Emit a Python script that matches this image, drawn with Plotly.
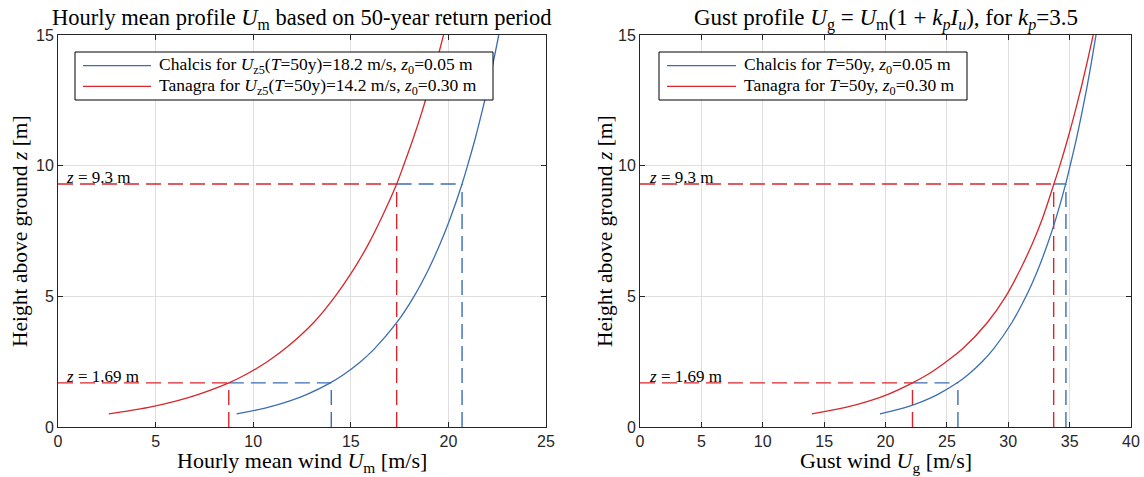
import plotly.graph_objects as go
from plotly.subplots import make_subplots

# ---------------- data ----------------
z_levels = [0.5, 0.75, 1.0, 1.25, 1.69, 2.0, 2.5, 3.0, 4.0, 5.0, 6.0, 7.0,
            8.0, 9.3, 10.0, 11.0, 12.0, 13.0, 14.0, 15.0]
Um_chalcis = [9.15, 10.75, 11.88, 12.76, 13.95, 14.62, 15.5, 16.22, 17.36, 18.24,
              18.96, 19.57, 20.1, 20.7, 20.98, 21.36, 21.7, 22.02, 22.31, 22.58]
Um_tanagra = [2.6, 4.64, 6.08, 7.2, 8.75, 9.6, 10.72, 11.64, 13.1, 14.2,
              15.12, 15.9, 16.57, 17.35, 17.7, 18.18, 18.62, 19.02, 19.4, 19.75]
Ug_chalcis = [19.55, 21.65, 23.12, 24.27, 25.85, 26.72, 27.87, 28.82, 30.3, 31.45,
              32.4, 33.2, 33.9, 34.68, 35.04, 35.54, 35.99, 36.41, 36.79, 37.15]
Ug_tanagra = [14.0, 16.75, 18.7, 20.2, 22.2, 23.4, 24.95, 26.3, 28.3, 29.8,
              30.95, 31.95, 32.8, 33.72, 34.2, 34.83, 35.41, 35.95, 36.45, 36.92]

z_marks = [1.69, 9.3]
z_mark_labels = ["1.69", "9.3"]
Um_mark_chalcis = [14.0, 20.7]
Um_mark_tanagra = [8.75, 17.35]
Ug_mark_chalcis = [25.9, 34.7]
Ug_mark_tanagra = [22.2, 33.7]

x_ticks_left = [0, 5, 10, 15, 20, 25]
x_ticks_right = [0, 5, 10, 15, 20, 25, 30, 35, 40]
y_ticks = [0, 5, 10, 15]

names_left = [
    "Chalcis for <i>U</i><sub>z5</sub>(<i>T</i>=50y)=18.2 m/s, <i>z</i><sub>0</sub>=0.05 m",
    "Tanagra for <i>U</i><sub>z5</sub>(<i>T</i>=50y)=14.2 m/s, <i>z</i><sub>0</sub>=0.30 m",
]
names_right = [
    "Chalcis for <i>T</i>=50y, <i>z</i><sub>0</sub>=0.05 m",
    "Tanagra for <i>T</i>=50y, <i>z</i><sub>0</sub>=0.30 m",
]

# ---------------- styling ----------------
BLUE = "#3B6DB4"
RED = "#D7262C"
AX = "#262626"
GRID = "#DFDFDF"
SERIF = "Liberation Serif, Times New Roman, serif"
SANS = "Liberation Sans, Arial, sans-serif"
W, H = 1144, 477
OFF = 0


def X(px):
    return (px - OFF) / W


def Y(py):
    return 1 - (py - OFF) / H


fig = make_subplots(rows=1, cols=2)

DASH = "15px,7px"


def add_panel(col, u_chal, u_tan, mark_chal, mark_tan):
    # dashed guide lines
    for zm, uc, ut in zip(z_marks, mark_chal, mark_tan):
        fig.add_trace(go.Scatter(x=[0, ut], y=[zm, zm], mode="lines",
                                 line=dict(color=RED, width=1.4, dash=DASH),
                                 showlegend=False, hoverinfo="skip"), row=1, col=col)
        fig.add_trace(go.Scatter(x=[ut, uc], y=[zm, zm], mode="lines",
                                 line=dict(color=BLUE, width=1.4, dash=DASH),
                                 showlegend=False, hoverinfo="skip"), row=1, col=col)
        fig.add_trace(go.Scatter(x=[ut, ut], y=[0, zm], mode="lines",
                                 line=dict(color=RED, width=1.4, dash=DASH),
                                 showlegend=False, hoverinfo="skip"), row=1, col=col)
        fig.add_trace(go.Scatter(x=[uc, uc], y=[0, zm], mode="lines",
                                 line=dict(color=BLUE, width=1.4, dash=DASH),
                                 showlegend=False, hoverinfo="skip"), row=1, col=col)
    fig.add_trace(go.Scatter(x=u_chal, y=z_levels, mode="lines",
                             line=dict(color=BLUE, width=1.3, shape="spline"),
                             showlegend=False), row=1, col=col)
    fig.add_trace(go.Scatter(x=u_tan, y=z_levels, mode="lines",
                             line=dict(color=RED, width=1.3, shape="spline"),
                             showlegend=False), row=1, col=col)


add_panel(1, Um_chalcis, Um_tanagra, Um_mark_chalcis, Um_mark_tanagra)
add_panel(2, Ug_chalcis, Ug_tanagra, Ug_mark_chalcis, Ug_mark_tanagra)

axis_common = dict(showline=True, linecolor=AX, linewidth=1, mirror="allticks",
                   ticks="inside", ticklen=5, tickcolor=AX, tickwidth=1,
                   showgrid=True, gridcolor=GRID, gridwidth=1, zeroline=False,
                   automargin=False,
                   tickfont=dict(family=SANS, size=16, color=AX))

fig.update_xaxes(axis_common)
fig.update_yaxes(axis_common)
fig.update_xaxes(range=[0, 25], tickvals=x_ticks_left, domain=[X(58), X(546)], row=1, col=1)
fig.update_xaxes(range=[0, 40], tickvals=x_ticks_right, domain=[X(640), X(1131)], row=1, col=2)
fig.update_yaxes(range=[0, 15], tickvals=y_ticks, domain=[Y(427), Y(35)])

annotations = []


def ann(text, x, y, size, **kw):
    d = dict(text=text, x=x, y=y, xref="paper", yref="paper", showarrow=False,
             xanchor="center", yanchor="middle",
             font=dict(family=SERIF, size=size, color="#000000"))
    d.update(kw)
    annotations.append(d)


# titles
ann("Hourly mean profile <i>U</i><sub>m</sub> based on 50-year return period",
    X(302), Y(19), 22.5)
ann("Gust profile <i>U</i><sub>g</sub> = <i>U</i><sub>m</sub>(1 + <i>k</i><sub><i>p</i></sub>"
    "<i>I</i><sub><i>u</i></sub>), for <i>k</i><sub><i>p</i></sub>=3.5",
    X(886), Y(19), 23)
# axis titles
ann("Hourly mean wind <i>U</i><sub>m</sub> [m/s]", X(302), Y(462), 22)
ann("Gust wind <i>U</i><sub>g</sub> [m/s]", X(886), Y(462), 22)
ann("Height above ground <i>z</i> [m]", X(20), Y(231), 21.5, textangle=-90)
ann("Height above ground <i>z</i> [m]", X(605), Y(231), 21.5, textangle=-90)

# height labels
for xr, yr, x0 in (("x", "y", 0.3), ("x2", "y2", 0.55)):
    for zm, lab in zip(z_marks, z_mark_labels):
        annotations.append(dict(text="<i>z</i> = " + lab + " m", x=x0, y=zm, xref=xr, yref=yr,
                                xanchor="left", yanchor="middle", yshift=6, showarrow=False,
                                font=dict(family=SERIF, size=17, color="#000000")))

shapes = []


def legend(x0, x1, y0, y1, lx0, lx1, tx, names):
    shapes.append(dict(type="rect", xref="paper", yref="paper", x0=X(x0), x1=X(x1),
                       y0=Y(y1), y1=Y(y0), line=dict(color="#000000", width=1),
                       fillcolor="white", layer="above"))
    for yy, col, name in zip((65.7, 86.3), (BLUE, RED), names):
        shapes.append(dict(type="line", xref="paper", yref="paper", x0=X(lx0), x1=X(lx1),
                           y0=Y(yy), y1=Y(yy), line=dict(color=col, width=1.3), layer="above"))
        ann(name, X(tx), Y(yy), 17.5, xanchor="left", yanchor="middle")


legend(75, 493, 52, 100, 83, 151, 157, names_left)
legend(659, 967, 52, 100, 667, 736, 742, names_right)

fig.update_layout(width=W, height=H, margin=dict(l=0, r=0, t=0, b=0),
                  paper_bgcolor="white", plot_bgcolor="white",
                  showlegend=False, annotations=annotations, shapes=shapes)

fig.write_html("out.html", config={"displayModeBar": False},
               post_script="document.body.style.margin='0px';")
